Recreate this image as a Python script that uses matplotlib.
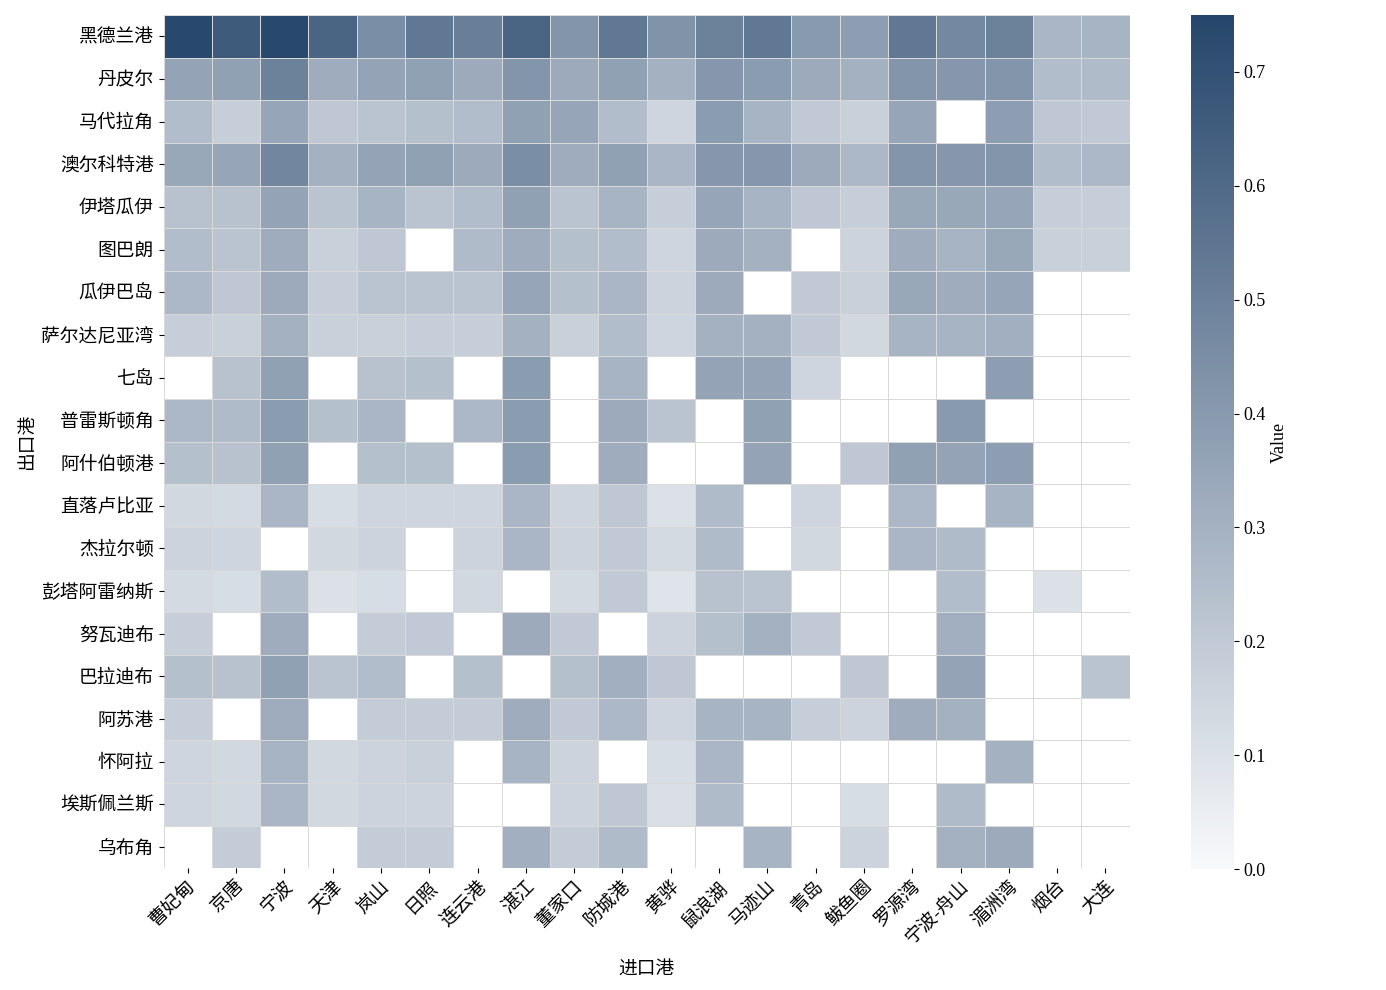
import numpy as np
import matplotlib
matplotlib.use("Agg")
import matplotlib.pyplot as plt
from matplotlib.colors import LinearSegmentedColormap

plt.rcParams['font.family'] = ['Liberation Serif', 'Noto Sans CJK SC', 'DejaVu Sans']
plt.rcParams['axes.unicode_minus'] = False

# 进口港（列）
importers = ['曹妃甸', '京唐', '宁波', '天津', '岚山', '日照', '连云港', '湛江', '董家口', '防城港',
             '黄骅', '鼠浪湖', '马迹山', '青岛', '鲅鱼圈', '罗源湾', '宁波-舟山', '湄洲湾', '烟台', '大连']
# 出口港（行）
exporters = ['黑德兰港', '丹皮尔', '马代拉角', '澳尔科特港', '伊塔瓜伊', '图巴朗', '瓜伊巴岛', '萨尔达尼亚湾',
             '七岛', '普雷斯顿角', '阿什伯顿港', '直落卢比亚', '杰拉尔顿', '彭塔阿雷纳斯', '努瓦迪布',
             '巴拉迪布', '阿苏港', '怀阿拉', '埃斯佩兰斯', '乌布角']

n = np.nan
values = [
    [0.74, 0.66, 0.74, 0.62, 0.45, 0.54, 0.51, 0.62, 0.42, 0.54, 0.43, 0.50, 0.54, 0.40, 0.38, 0.54, 0.47, 0.50, 0.28, 0.29],
    [0.36, 0.37, 0.50, 0.32, 0.36, 0.37, 0.33, 0.42, 0.33, 0.37, 0.30, 0.41, 0.39, 0.33, 0.30, 0.42, 0.41, 0.42, 0.25, 0.26],
    [0.25, 0.18, 0.35, 0.21, 0.22, 0.24, 0.25, 0.37, 0.35, 0.25, 0.15, 0.39, 0.29, 0.20, 0.17, 0.35, n, 0.38, 0.21, 0.20],
    [0.34, 0.35, 0.48, 0.30, 0.36, 0.37, 0.33, 0.45, 0.32, 0.37, 0.28, 0.41, 0.41, 0.33, 0.27, 0.42, 0.41, 0.42, 0.25, 0.27],
    [0.23, 0.23, 0.36, 0.22, 0.29, 0.22, 0.25, 0.37, 0.22, 0.29, 0.18, 0.35, 0.29, 0.21, 0.18, 0.34, 0.34, 0.35, 0.18, 0.18],
    [0.25, 0.22, 0.32, 0.17, 0.21, n, 0.26, 0.32, 0.24, 0.25, 0.15, 0.33, 0.30, n, 0.16, 0.32, 0.29, 0.34, 0.17, 0.17],
    [0.27, 0.21, 0.33, 0.18, 0.22, 0.22, 0.22, 0.35, 0.24, 0.28, 0.16, 0.33, n, 0.20, 0.17, 0.34, 0.32, 0.35, n, n],
    [0.18, 0.17, 0.30, 0.17, 0.17, 0.18, 0.18, 0.30, 0.17, 0.25, 0.15, 0.30, 0.30, 0.20, 0.14, 0.29, 0.29, 0.31, n, n],
    [n, 0.23, 0.37, n, 0.23, 0.24, n, 0.39, n, 0.29, n, 0.36, 0.36, 0.15, n, n, n, 0.38, n, n],
    [0.27, 0.26, 0.39, 0.24, 0.28, n, 0.27, 0.39, n, 0.33, 0.22, n, 0.37, n, n, n, 0.40, n, n, n],
    [0.24, 0.23, 0.37, n, 0.24, 0.24, n, 0.39, n, 0.32, n, n, 0.36, n, 0.21, 0.37, 0.36, 0.38, n, n],
    [0.14, 0.13, 0.28, 0.12, 0.15, 0.15, 0.15, 0.28, 0.15, 0.21, 0.10, 0.26, n, 0.15, n, 0.27, n, 0.29, n, n],
    [0.16, 0.15, n, 0.14, 0.16, n, 0.16, 0.28, 0.16, 0.20, 0.13, 0.26, n, 0.14, n, 0.28, 0.26, n, n, n],
    [0.13, 0.12, 0.25, 0.10, 0.12, n, 0.14, n, 0.13, 0.20, 0.09, 0.23, 0.22, n, n, n, 0.25, n, 0.10, n],
    [0.18, n, 0.32, n, 0.19, 0.20, n, 0.33, 0.20, n, 0.16, 0.24, 0.30, 0.20, n, n, 0.31, n, n, n],
    [0.24, 0.23, 0.37, 0.22, 0.25, n, 0.24, n, 0.24, 0.31, 0.21, n, n, n, 0.21, n, 0.36, n, n, 0.22],
    [0.18, n, 0.32, n, 0.19, 0.19, 0.19, 0.32, 0.20, 0.27, 0.15, 0.29, 0.29, 0.18, 0.16, 0.32, 0.30, n, n, n],
    [0.15, 0.14, 0.29, 0.14, 0.16, 0.17, n, 0.29, 0.16, n, 0.12, 0.28, n, n, n, n, n, 0.30, n, n],
    [0.15, 0.14, 0.28, 0.14, 0.16, 0.16, n, n, 0.16, 0.21, 0.11, 0.26, n, n, 0.12, n, 0.26, n, n, n],
    [n, 0.19, n, n, 0.19, 0.19, n, 0.31, 0.19, 0.26, n, n, 0.29, n, 0.16, n, 0.30, 0.33, n, n],
]
data = np.ma.masked_invalid(np.array(values))

cmap = LinearSegmentedColormap.from_list('navy', ['#f8f9fb', '#26466b'])

fig = plt.figure(figsize=(13.86, 9.9), dpi=100)
ax = fig.add_axes([0.118, 0.123, 0.697, 0.862])
cax = fig.add_axes([0.859, 0.122, 0.031, 0.863])

mesh = ax.pcolormesh(data, cmap=cmap, vmin=0, vmax=0.75,
                     edgecolors='#d9d9d9', linewidth=0.6)
ax.set_xlim(0, len(importers))
ax.set_ylim(len(exporters), 0)

ax.set_xticks(np.arange(len(importers)) + 0.5)
ax.set_xticklabels(importers, rotation=45, ha='right', rotation_mode='anchor', fontsize=13.5)
ax.set_yticks(np.arange(len(exporters)) + 0.5)
ax.set_yticklabels(exporters, fontsize=13.5)
for s in ax.spines.values():
    s.set_visible(False)

ax.set_xlabel('进口港', fontsize=13.5, labelpad=10)
ax.set_ylabel('出口港', fontsize=13.5)

cb = fig.colorbar(mesh, cax=cax)
cb.outline.set_visible(False)
cb.ax.tick_params(labelsize=13)
cb.set_label('Value', fontsize=13)

fig.savefig('out.png', dpi=100)
